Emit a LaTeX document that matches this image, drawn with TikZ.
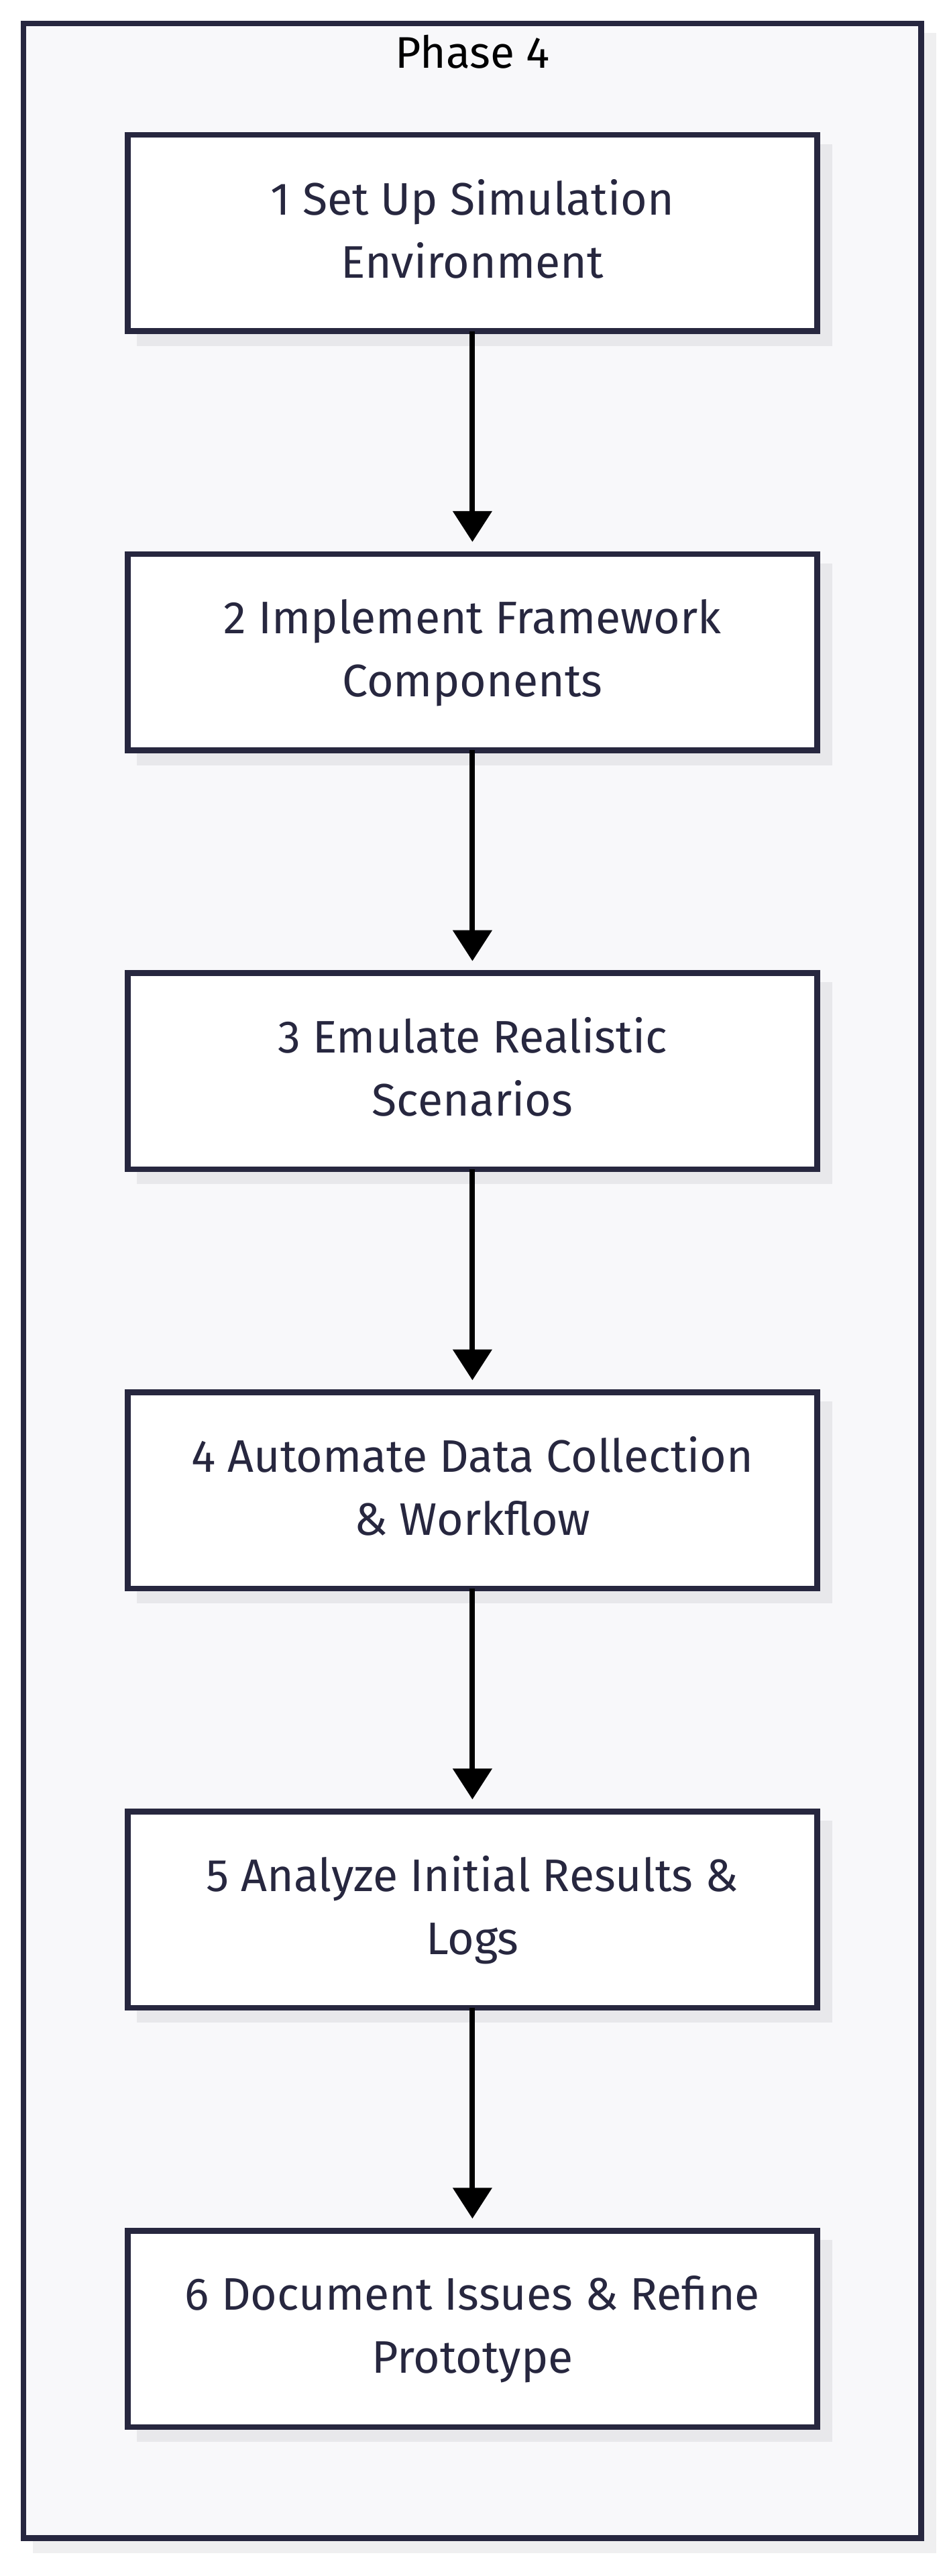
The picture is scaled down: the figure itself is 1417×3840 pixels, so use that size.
\documentclass[tikz,border=0pt]{standalone}
\usepackage{fontspec}
\setmainfont{Fira Sans}
\usetikzlibrary{arrows.meta}
\definecolor{navy}{RGB}{39,39,63}
\definecolor{boxshadow}{RGB}{232,232,235}
\definecolor{frameshadow}{RGB}{239,239,240}
\definecolor{framefill}{RGB}{248,248,250}
\tikzset{
  stepbox/.style={draw=navy, line width=8.5pt, fill=white, minimum width=1028pt, minimum height=292.5pt,
    inner sep=0pt, outer sep=0pt, align=center, text=navy, text depth=13pt, font=\fontsize{68}{94}\selectfont},
  shadowbox/.style={fill=boxshadow, draw=none, minimum width=1036.5pt, minimum height=301pt, inner sep=0pt, outer sep=0pt},
  flow/.style={line width=8pt, black, -{Triangle[length=46pt,width=57pt]}, shorten >=18pt}
}
\begin{document}
\begin{tikzpicture}[x=1pt,y=-1pt]
\useasboundingbox (0,0) rectangle (1417,3840);
\fill[white] (0,0) rectangle (1417,3840);
% frame shadow and frame
\fill[frameshadow] (49,49) rectangle (1396,3806);
\node[draw=navy, line width=8.5pt, fill=framefill, minimum width=1338.5pt, minimum height=3748.5pt,
  inner sep=0pt, outer sep=0pt] (frame) at (704.25,1909.25) {};
\node[font=\fontsize{66}{70}\selectfont, text=black, anchor=base, inner sep=0pt] (title) at (704.4,102) {Phase 4};
% shadows
\foreach \y in {347.25,972.1,1596.95,2221.8,2846.65,3471.5} {
  \node[shadowbox] at (722.4,\y+18) {};
}
\node[stepbox] (s1) at (704.4,347.25) {1 Set Up Simulation\\Environment};
\node[stepbox] (s2) at (704.4,972.1) {2 Implement Framework\\Components};
\node[stepbox] (s3) at (704.4,1596.95) {3 Emulate Realistic\\Scenarios};
\node[stepbox] (s4) at (704.4,2221.8) {4 Automate Data Collection\\\& Workflow};
\node[stepbox] (s5) at (704.4,2846.65) {5 Analyze Initial Results \&\\Logs};
\node[stepbox] (s6) at (704.4,3471.5) {6 Document Issues \& Refine\\Prototype};
\draw[flow] (s1.south) -- (s2.north);
\draw[flow] (s2.south) -- (s3.north);
\draw[flow] (s3.south) -- (s4.north);
\draw[flow] (s4.south) -- (s5.north);
\draw[flow] (s5.south) -- (s6.north);
\end{tikzpicture}
\end{document}
